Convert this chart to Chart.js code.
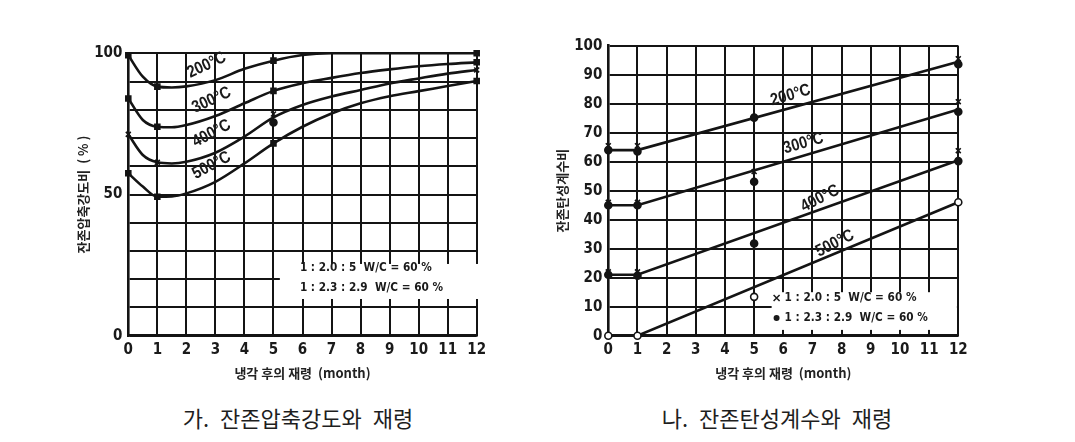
<!DOCTYPE html>
<html><head><meta charset="utf-8">
<script src="https://cdn.jsdelivr.net/npm/chart.js@4.4.1/dist/chart.umd.min.js"></script>
<style>
html,body{margin:0;padding:0;background:#fff;}
#wrap{position:relative;width:1075px;height:442px;background:#fff;overflow:hidden;}
.cv{position:absolute;top:0;height:390px;}
.cap{position:absolute;top:404px;font-family:'Noto Sans CJK KR',sans-serif;font-size:22px;color:#1e1e1e;white-space:pre;transform:translateX(-50%);word-spacing:6px;line-height:26px;}
</style></head><body>
<div id="wrap">
<div class="cv" style="left:0;width:537px;"><canvas id="c1"></canvas></div>
<div class="cv" style="left:537px;width:538px;"><canvas id="c2"></canvas></div>
<div class="cap" style="left:298px;">가. 잔존압축강도와 재령</div>
<div class="cap" style="left:777px;">나. 잔존탄성계수와 재령</div>
</div>
<script>
// ---------- Data: left chart (잔존압축강도비 %) ----------
const markMonths = [0, 1, 5, 12];
const strength200 = [99.3, 88.2, 97.4, 100];
const strength300 = [84, 74, 86.7, 96.8];
const strength400 = [71.3, 61.4, 78.5, 94.1];
const strength400Mix2 = [null, null, 75.5, null];
const strength500 = [57.5, 49.2, 68.1, 90.2];

const curveMonths = [0, 0.5, 1, 1.5, 2, 3, 4, 5, 6, 7, 8, 9, 10, 11, 12];
const curve200 = [99.3, 91.7, 88.2, 87.9, 88.3, 90.5, 94.5, 97.4, 99.4, 100, 100, 100, 100, 100, 100];
const curve300 = [84, 76.4, 74, 73.8, 74.6, 77.8, 82.3, 86.7, 89.4, 91.3, 93, 94.3, 95.4, 96.2, 96.8];
const curve400 = [71.3, 64, 61.4, 61, 61.6, 64.8, 70.5, 77.3, 81.7, 84.7, 87, 89.3, 91.1, 92.8, 94.1];
const curve500 = [57.5, 52.8, 49.2, 49.3, 50.4, 54.5, 61, 68.1, 74, 78.7, 82.3, 84.8, 86.6, 88.4, 90.2];

// ---------- Data: right chart (잔존탄성계수비) ----------
const lineMonths = [0, 1, 12];
const modulus200 = [64, 64, 94.5];
const modulus300 = [45, 45, 78];
const modulus400 = [21, 21, 60.5];
const modulus500 = [0, 0, 46];

const modCross200 = [65.5, 65.5, null, 95.5];
const modCross300 = [46, 46, 56.6, 80.7];
const modCross400 = [22, 22, null, 63.8];
const modDot200 = [64, 63.5, 75.2, 93.6];
const modDot300 = [45, 45, 53.1, 77.2];
const modDot400 = [21, 20.7, 31.8, 60.2];
const modOpen500 = [0, 0, 13.4, 46];

const tempLabels = ['200°C', '300°C', '400°C', '500°C'];
const mixLabels = ['1 : 2.0 : 5  W/C = 60 %', '1 : 2.3 : 2.9  W/C = 60 %'];
const xTitle = '냉각 후의 재령  (month)';
const yTitleLeft = '잔존압축강도비  ( % )';
const yTitleRight = '잔존탄성계수비';

// ---------- helpers ----------
const INK = '#141414';
const NUMFONT = "'Liberation Sans Narrow','DejaVu Sans Condensed','Liberation Sans',sans-serif";
const LBLFONT = "'Liberation Sans','Arial',sans-serif";
const KRFONT = "'Noto Sans CJK KR',sans-serif";
const pts = (xs, ys) => xs.map((x, i) => ({x, y: ys[i]})).filter(p => p.y !== null);

function curveDs(ys) {
  return {data: pts(curveMonths, ys), borderColor: INK, borderWidth: 2.6, pointRadius: 0,
    cubicInterpolationMode: 'monotone', fill: false, clip: false, order: 2};
}
function lineDs(ys) {
  return {data: pts(lineMonths, ys), borderColor: INK, borderWidth: 2.6, pointRadius: 0,
    tension: 0, fill: false, clip: false, order: 2};
}
function markDs(ys, style, r, filled) {
  return {data: pts(markMonths, ys), showLine: false, pointStyle: style, pointRadius: r,
    pointBackgroundColor: filled ? INK : '#fff', pointBorderColor: INK, pointBorderWidth: 1.6,
    clip: false, order: 0};
}

const overlay = {
  id: 'overlay',
  beforeDatasetsDraw(chart, args, o) {
    const {ctx, scales: {x, y}} = chart;
    const b = o.box;
    const l = x.getPixelForValue(b.x0);
    const r = b.coverRight ? x.getPixelForValue(12) + 2 : x.getPixelForValue(12) - 1.4;
    const t = y.getPixelForValue(b.y1), bt = y.getPixelForValue(b.y0);
    ctx.save(); ctx.fillStyle = '#fff'; ctx.fillRect(l, t, r - l, bt - t); ctx.restore();
  },
  afterDatasetsDraw(chart, args, o) {
    const {ctx, scales: {x, y}} = chart;
    ctx.save();
    ctx.fillStyle = '#1a1a1a';
    ctx.textAlign = 'center'; ctx.textBaseline = 'middle';
    ctx.font = "bold 17px " + LBLFONT;
    o.temps.forEach((p, i) => {
      ctx.save();
      ctx.translate(x.getPixelForValue(p[0]), y.getPixelForValue(p[1]));
      ctx.rotate(p[2] * Math.PI / 180);
      ctx.scale(0.86, 1);
      ctx.fillText(tempLabels[i], 0, 0);
      ctx.restore();
    });
    ctx.textAlign = 'left';
    ctx.font = "bold 13px " + NUMFONT;
    o.legend.forEach((p, i) => {
      const px = x.getPixelForValue(p[0]), py = y.getPixelForValue(p[1]);
      let tx = px;
      if (o.symbols) {
        if (i === 0) {
          ctx.strokeStyle = '#1a1a1a'; ctx.lineWidth = 1.5;
          ctx.beginPath(); ctx.moveTo(px - 3, py - 3); ctx.lineTo(px + 3, py + 3);
          ctx.moveTo(px + 3, py - 3); ctx.lineTo(px - 3, py + 3); ctx.stroke();
        } else {
          ctx.beginPath(); ctx.arc(px, py, 3, 0, Math.PI * 2); ctx.fill();
        }
        tx = px + 8;
      }
      ctx.save();
      ctx.translate(tx, py);
      ctx.scale(0.9, 1);
      ctx.fillText(mixLabels[i], 0, 0);
      ctx.restore();
    });
    ctx.restore();
  }
};

function scales(yTitle, yTickCb, yPadTitle) {
  return {
    x: {type: 'linear', min: 0, max: 12,
      ticks: {stepSize: 1, color: '#1a1a1a', padding: 5, font: {family: NUMFONT, size: 15, weight: 'bold'}},
      grid: {color: INK, lineWidth: 2, drawTicks: false},
      border: {color: INK, width: 2.6},
      title: {display: true, text: xTitle, color: '#222', padding: {top: 0, bottom: 0},
        font: {family: KRFONT, size: 13, weight: 'bold'}},
      afterFit: s => { s.height = 45; }
    },
    y: {type: 'linear', min: 0, max: 100,
      ticks: {stepSize: 10, color: '#1a1a1a', padding: 6, callback: yTickCb,
        font: {family: NUMFONT, size: 15, weight: 'bold'}},
      grid: {color: INK, lineWidth: 2, drawTicks: false},
      border: {color: INK, width: 2.6},
      title: {display: true, text: yTitle, color: '#222', padding: {top: 0, bottom: 0},
        font: {family: KRFONT, size: 13, weight: 'bold'}},
      afterFit: s => { s.width = yPadTitle; }
    }
  };
}

const common = {responsive: true, maintainAspectRatio: false, animation: false,
  events: [], plugins: {legend: {display: false}, tooltip: {enabled: false}}};

new Chart(document.getElementById('c1'), {
  type: 'line',
  data: {datasets: [
    markDs(strength200, 'rect', 3.5, true),
    markDs(strength300, 'rect', 3.5, true),
    markDs(strength400, 'crossRot', 3.5, true),
    markDs(strength400Mix2, 'circle', 3.5, true),
    markDs(strength500, 'rect', 3.5, true),
    curveDs(curve200), curveDs(curve300), curveDs(curve400), curveDs(curve500)
  ]},
  options: Object.assign({}, common, {
    layout: {padding: {left: 75, right: 60.3, top: 53.3, bottom: 9.3}},
    scales: scales(yTitleLeft, v => (v % 50 === 0 ? v : ''), 53.3),
    plugins: Object.assign({}, common.plugins, {overlay: {
      box: {x0: 5.22, y0: 13, y1: 25.4, coverRight: true},
      temps: [[2.7, 95.8, -25], [2.87, 83.4, -25], [2.87, 71.6, -28], [2.87, 60.3, -28]],
      legend: [[5.91, 24], [5.91, 16.9]],
      symbols: false
    }})
  }),
  plugins: [overlay]
});

new Chart(document.getElementById('c2'), {
  type: 'line',
  data: {datasets: [
    markDs(modCross200, 'crossRot', 3.5, false),
    markDs(modCross300, 'crossRot', 3.5, false),
    markDs(modCross400, 'crossRot', 3.5, false),
    markDs(modDot200, 'circle', 3.5, true),
    markDs(modDot300, 'circle', 3.5, true),
    markDs(modDot400, 'circle', 3.5, true),
    markDs(modOpen500, 'circle', 3.5, false),
    lineDs(modulus200), lineDs(modulus300), lineDs(modulus400), lineDs(modulus500)
  ]},
  options: Object.assign({}, common, {
    layout: {padding: {left: 17.7, right: 116.7, top: 45.7, bottom: 9.3}},
    scales: scales(yTitleRight, v => v, 53.6),
    plugins: Object.assign({}, common.plugins, {overlay: {
      box: {x0: 5.6, y0: 2, y1: 15, coverRight: false},
      temps: [[6.25, 82.9, -16], [6.69, 66.3, -16], [7.26, 47.3, -27], [7.77, 31.8, -27]],
      legend: [[5.77, 13], [5.77, 6.1]],
      symbols: true
    }})
  }),
  plugins: [overlay]
});
</script>
</body></html>
